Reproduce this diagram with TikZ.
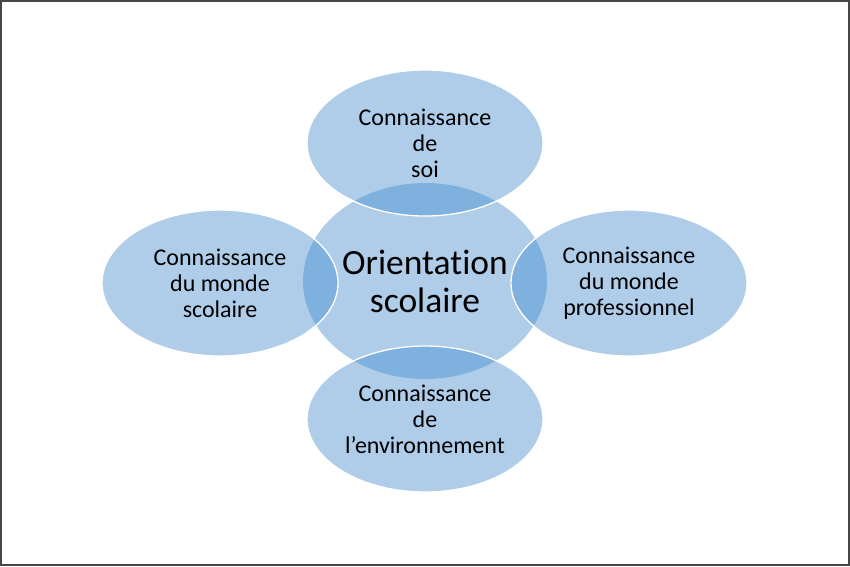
\documentclass[tikz,border=0pt]{standalone}
\usepackage{fontspec}
\setmainfont{Carlito}[Ligatures={NoCommon}]
\usetikzlibrary{shapes.geometric}

\definecolor{bubblefill}{RGB}{175,205,233}
\definecolor{overlapfill}{RGB}{127,177,222}
\definecolor{framegray}{RGB}{70,70,70}

\tikzset{
  hub/.style={ellipse, fill=bubblefill, minimum width=244pt, minimum height=196pt,
    inner sep=0pt, align=center, font=\fontsize{35.5}{38}\selectfont},
  bubble/.style={ellipse, fill=bubblefill, draw=white, line width=1.3pt,
    minimum width=236pt, minimum height=146pt, inner sep=0pt, align=center,
    font=\fontsize{24}{26}\selectfont,
    path picture={\fill[overlapfill] (hub.center) ellipse [x radius=122pt, y radius=98pt];}},
  frame/.style={draw=framegray, line width=1.6pt}
}

\begin{document}
\begin{tikzpicture}[x=1pt, y=-1pt]
  \useasboundingbox (0,0) rectangle (850,566);
  \draw[frame] (0.8,0.8) rectangle (849.2,565.2);

  % central topic
  \node[hub] (hub) at (425,281) {Orientation\\scolaire};

  % the four surrounding areas of knowledge
  \node[bubble] (self) at (425,143) {Connaissance\\de\\soi};
  \node[bubble] (school) at (220,283) {Connaissance\\du monde\\scolaire};
  \node[bubble] (work) at (629,283) {Connaissance\\du monde\\professionnel};
  \node[bubble] (env) at (425,419) {Connaissance\\de\\l’environnement};
\end{tikzpicture}
\end{document}
